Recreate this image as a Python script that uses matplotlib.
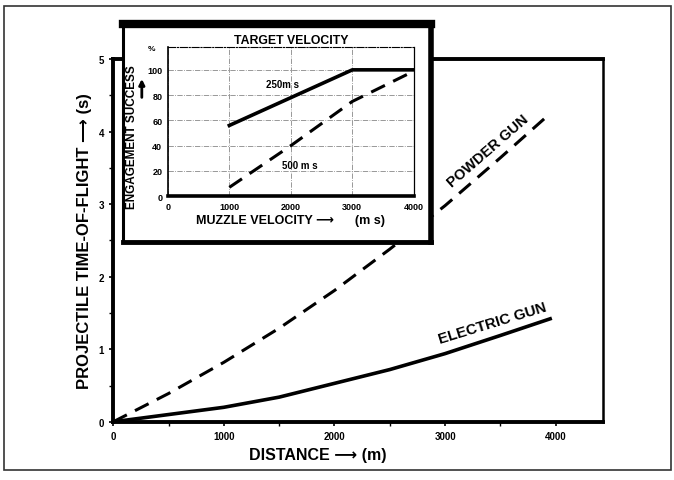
import matplotlib.pyplot as plt
from matplotlib.patches import Rectangle
import numpy as np

plt.rcParams['font.family'] = ['Liberation Sans', 'DejaVu Sans']
plt.rcParams['font.weight'] = 'bold'
plt.rcParams['axes.labelweight'] = 'bold'
plt.rcParams['axes.titleweight'] = 'bold'

# main chart data (distance in m, time of flight in s)
dist = [0, 500, 1000, 1500, 2000, 2500, 3000, 3500, 3950]
powder_tof = [0, 0.39, 0.82, 1.29, 1.81, 2.38, 2.98, 3.64, 4.25]
electric_tof = [0, 0.1, 0.2, 0.34, 0.53, 0.72, 0.94, 1.19, 1.42]

# inset data (muzzle velocity m/s, engagement success %)
mv_250 = [1000, 3000, 4000]
succ_250 = [56, 100, 100]
mv_500 = [1000, 2000, 3000, 4000]
succ_500 = [7, 40, 75, 99]

fig = plt.figure(figsize=(6.74, 4.81), dpi=100)

# outer frame of the page
fig.patches.append(Rectangle((0.006, 0.02), 0.99, 0.965, transform=fig.transFigure,
                             fill=False, lw=1.2, ec='#333333'))

ax = fig.add_axes([0.168, 0.121, 0.727, 0.754])
ax.plot(dist, powder_tof, color='black', lw=2.2, ls=(0, (5, 3)))
ax.plot(dist, electric_tof, color='black', lw=2.6)
ax.set_xlim(0, 4430)
ax.set_ylim(0, 5)
ax.set_xticks([0, 1000, 2000, 3000, 4000])
ax.set_xticks(np.arange(500, 4430, 500), minor=True)
ax.set_yticks([0, 1, 2, 3, 4, 5])
ax.set_yticks(np.arange(0.5, 5, 0.5), minor=True)
ax.tick_params(labelsize=7, length=3, width=1.2)
ax.tick_params(which='minor', length=3, width=1)
for s in ['left', 'bottom', 'top']:
    ax.spines[s].set_linewidth(2.8)
ax.spines['right'].set_linewidth(1.8)
ax.set_ylabel('PROJECTILE TIME-OF-FLIGHT \u27f6 (s)', fontsize=12, labelpad=5)
fig.text(0.472, 0.054, 'DISTANCE \u27f6 (m)', fontsize=11.5, ha='center', va='center')

ax.text(3080, 3.2, 'POWDER GUN', fontsize=10.5, rotation=41, rotation_mode='anchor',
        ha='left', va='bottom')
ax.text(2960, 1.05, 'ELECTRIC GUN', fontsize=10.8, rotation=17, rotation_mode='anchor',
        ha='left', va='bottom')

# inset box
box = Rectangle((0.182, 0.495), 0.457, 0.453, transform=fig.transFigure,
                fc='white', ec='black', lw=2.2, zorder=5)
fig.patches.append(box)
fig.add_artist(plt.Line2D([0.182, 0.639], [0.948, 0.948], transform=fig.transFigure,
                          color='black', lw=6, zorder=6))
fig.add_artist(plt.Line2D([0.639, 0.639], [0.495, 0.948], transform=fig.transFigure,
                          color='black', lw=4, zorder=6))
fig.add_artist(plt.Line2D([0.182, 0.639], [0.495, 0.495], transform=fig.transFigure,
                          color='black', lw=3.5, zorder=6))

ins = fig.add_axes([0.249, 0.590, 0.365, 0.310], zorder=7)
ins.set_facecolor('white')
ins.plot(mv_250, succ_250, color='black', lw=2.6)
ins.plot(mv_500, succ_500, color='black', lw=2.2, ls=(0, (5, 3)))
ins.set_xlim(0, 4000)
ins.set_ylim(0, 118)
ins.set_xticks([0, 1000, 2000, 3000, 4000])
ins.set_yticks([0, 20, 40, 60, 80, 100])
ins.grid(True, color='#888888', lw=0.6, ls='-.')
ins.tick_params(labelsize=6.5, length=0, pad=4)
ins.spines['left'].set_linewidth(1.2)
ins.spines['bottom'].set_linewidth(2.6)
ins.spines['top'].set_linewidth(0.8)
ins.spines['top'].set_linestyle('-.')
ins.spines['right'].set_linewidth(0.9)
ins.set_title('TARGET VELOCITY', fontsize=8.8, pad=3)
ins.set_xlabel('MUZZLE VELOCITY \u27f6      (m s)', fontsize=9, labelpad=2)
ins.set_ylabel('ENGAGEMENT SUCCESS', fontsize=8.5)
ins.yaxis.set_label_coords(-0.12, 0.40)
ins.annotate('', xy=(-423, 95), xytext=(-423, 76), xycoords='data',
             arrowprops=dict(arrowstyle='-|>', color='black', lw=2, mutation_scale=8),
             annotation_clip=False)
ins.text(-260, 117, '%', fontsize=6, ha='center', va='center')
ins.text(1600, 89, '250m s', fontsize=7, va='center')
ins.text(1850, 25, '500 m s', fontsize=7, va='center')

fig.savefig('out.png', dpi=100)
